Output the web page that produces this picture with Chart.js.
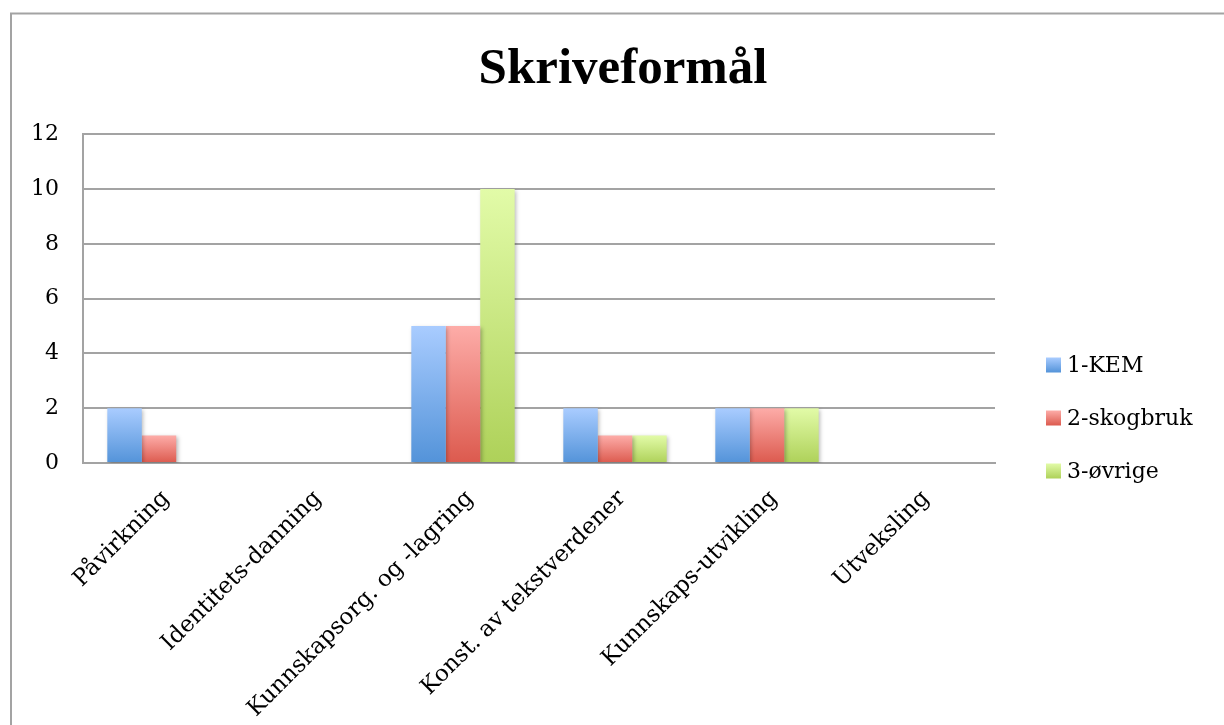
<!DOCTYPE html>
<html>
<head>
<meta charset="utf-8">
<script src="https://cdn.jsdelivr.net/npm/chart.js@4/dist/chart.umd.min.js"></script>
<style>
  html, body { margin: 0; padding: 0; background: #ffffff; }
  #wrap { width: 1224px; height: 725px; position: relative; }
</style>
</head>
<body>
<div id="wrap"><canvas id="c" width="1224" height="725"></canvas></div>
<script>
// ---- data ----
const categories = ['Påvirkning', 'Identitets-danning', 'Kunnskapsorg. og -lagring', 'Konst. av tekstverdener', 'Kunnskaps-utvikling', 'Utveksling'];
const seriesNames = ['1-KEM', '2-skogbruk', '3-øvrige'];
const kem = [2, 0, 5, 2, 2, 0];
const skogbruk = [1, 0, 5, 1, 2, 0];
const ovrige = [0, 0, 10, 1, 2, 0];
const yMin = 0, yMax = 12, yStep = 2;
const chartTitle = 'Skriveformål';

// ---- styles ----
const palette = [
  { top: '#a9ccff', bottom: '#5393d9' },
  { top: '#fdaca8', bottom: '#dc5a4e' },
  { top: '#e2fba8', bottom: '#aed159' }
];
const gridGray = '#a3a3a3';
const FONT = "'DejaVu Serif', serif";
const TITLE_FONT = "'Liberation Serif', serif";

function barGradient(p) {
  return (ctx) => {
    const chart = ctx.chart;
    if (!chart.chartArea || ctx.type !== 'data') return p.bottom;
    const y = chart.scales.y;
    const v = ctx.parsed ? ctx.parsed.y : ctx.raw;
    const yTop = y.getPixelForValue(v), yBase = y.getPixelForValue(0);
    if (!(yBase > yTop)) return p.bottom;
    const g = chart.ctx.createLinearGradient(0, yTop, 0, yBase);
    g.addColorStop(0, p.top);
    g.addColorStop(1, p.bottom);
    return g;
  };
}

const seriesValues = [kem, skogbruk, ovrige];
const datasets = seriesValues.map((vals, i) => ({
  label: seriesNames[i],
  data: vals,
  backgroundColor: barGradient(palette[i]),
  borderWidth: 0,
  categoryPercentage: 0.68,
  barPercentage: 1.0
}));

// reserves room on the right for the legend, without shrinking the title box
const spacerPlugin = {
  id: 'rightSpacer',
  beforeInit(chart) {
    const box = {
      position: 'right', weight: 100, fullSize: false,
      options: {},
      left: 0, top: 0, right: 0, bottom: 0, width: 0, height: 0,
      isHorizontal() { return false; },
      update(maxWidth, maxHeight) { this.width = 229; this.height = maxHeight; },
      getPadding() { return { top: 0, left: 0, bottom: 0, right: 0 }; },
      draw() {}
    };
    Chart.layouts.addBox(chart, box);
  }
};

const framePlugin = {
  id: 'frame',
  beforeDraw(chart) {
    const c = chart.ctx;
    c.save();
    c.fillStyle = '#ffffff';
    c.fillRect(0, 0, chart.width, chart.height);
    c.strokeStyle = gridGray;
    c.lineWidth = 2;
    c.beginPath();
    c.moveTo(11, chart.height);
    c.lineTo(11, 13.5);
    c.lineTo(chart.width, 13.5);
    c.stroke();
    c.restore();
  }
};

const shadowPlugin = {
  id: 'barShadow',
  beforeDatasetsDraw(chart) {
    const c = chart.ctx;
    c.save();
    c.shadowColor = 'rgba(0,0,0,0.28)';
    c.shadowBlur = 4;
    c.shadowOffsetX = 1.5;
    c.shadowOffsetY = 1.5;
  },
  afterDatasetsDraw(chart) {
    chart.ctx.restore();
  }
};

const legendPlugin = {
  id: 'sideLegend',
  afterDraw(chart) {
    const c = chart.ctx;
    const x0 = chart.chartArea.right + 51;
    const yStart = 365, gap = 53, box = 15;
    c.save();
    c.font = '22px ' + FONT;
    c.textBaseline = 'middle';
    c.textAlign = 'left';
    chart.data.datasets.forEach((ds, i) => {
      const yc = yStart + i * gap;
      const g = c.createLinearGradient(0, yc - box / 2, 0, yc + box / 2);
      g.addColorStop(0, palette[i].top);
      g.addColorStop(1, palette[i].bottom);
      c.fillStyle = g;
      c.fillRect(x0, yc - box / 2, box, box);
      c.fillStyle = '#000';
      c.fillText(ds.label, x0 + 21, yc + 1);
    });
    c.restore();
  }
};

Chart.defaults.font.family = FONT;
Chart.defaults.font.size = 22;
Chart.defaults.color = '#000';

new Chart(document.getElementById('c'), {
  type: 'bar',
  data: { labels: categories, datasets },
  options: {
    responsive: false,
    animation: false,
    devicePixelRatio: 1,
    layout: { padding: { left: 22, right: 0, top: 0, bottom: 0 } },
    plugins: {
      legend: { display: false },
      tooltip: { enabled: false },
      title: {
        display: true,
        text: chartTitle,
        color: '#000',
        font: { family: TITLE_FONT, size: 51, weight: 'bold', lineHeight: 1.2 },
        padding: { top: 39, bottom: 34 }
      }
    },
    scales: {
      x: {
        grid: { display: false, drawTicks: false },
        border: { display: true, color: gridGray, width: 2 },
        ticks: { maxRotation: 45, minRotation: 45, autoSkip: false, padding: 22, labelOffset: 7, font: { size: 23 } },
        afterFit(scale) { scale.height = 262; }
      },
      y: {
        min: yMin, max: yMax,
        grid: { color: gridGray, lineWidth: 2, drawTicks: false },
        border: { display: true, color: gridGray, width: 2 },
        ticks: { stepSize: yStep, padding: 24, font: { size: 22 } },
        afterFit(scale) { scale.width = 61; }
      }
    }
  },
  plugins: [spacerPlugin, framePlugin, shadowPlugin, legendPlugin]
});
</script>
</body>
</html>
